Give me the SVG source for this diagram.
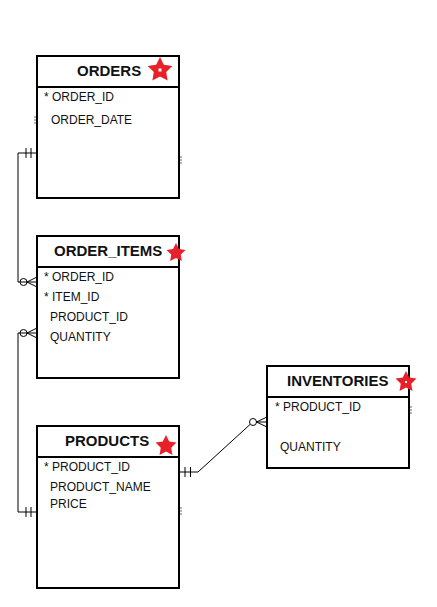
<svg xmlns="http://www.w3.org/2000/svg" xmlns:xlink="http://www.w3.org/1999/xlink" width="437" height="607" viewBox="0 0 437 607">
<style>
.box{fill:#fff;stroke:#000;stroke-width:2}
.div{stroke:#000;stroke-width:2}
.title{font-family:"Liberation Sans",Arial,sans-serif;font-size:15px;font-weight:bold;fill:#111}
.attr{font-family:"Liberation Sans",Arial,sans-serif;font-size:12px;fill:#111}
.conn{fill:none;stroke:#000;stroke-width:1}
.tick{stroke:#666;stroke-width:1}
.star{fill:#e8202a}
</style>
<defs>
<path id="star" d="M0,-1 L0.294,-0.405 L0.951,-0.309 L0.476,0.155 L0.588,0.809 L0,0.5 L-0.588,0.809 L-0.476,0.155 L-0.951,-0.309 L-0.294,-0.405 Z"/>
</defs>
<rect width="437" height="607" fill="#fff"/>
<g id="connectors">
  <!-- ORDERS to ORDER_ITEMS -->
  <path class="conn" d="M37,153 H18 V282 H37"/>
  <line class="conn" x1="26" y1="148" x2="26" y2="158"/>
  <line class="conn" x1="31" y1="148" x2="31" y2="158"/>
  <circle class="conn" cx="23.5" cy="282" r="3.5"/>
  <path class="conn" d="M37,277 L27,282 L37,287"/>
  <!-- ORDER_ITEMS to PRODUCTS -->
  <path class="conn" d="M37,333 H18 V512 H37"/>
  <circle class="conn" cx="23.5" cy="333" r="3.5"/>
  <path class="conn" d="M37,328 L27,333 L37,338"/>
  <line class="conn" x1="26" y1="507" x2="26" y2="517"/>
  <line class="conn" x1="31" y1="507" x2="31" y2="517"/>
  <!-- PRODUCTS to INVENTORIES -->
  <path class="conn" d="M179,472 H198 L250,424.5"/>
  <line class="conn" x1="185" y1="467" x2="185" y2="477"/>
  <line class="conn" x1="190.5" y1="467" x2="190.5" y2="477"/>
  <circle class="conn" cx="253" cy="422" r="3.5"/>
  <path class="conn" d="M267,417 L256.5,422 L267,427 M256.5,422 H267"/>
  <!-- small tick marks -->
  <path class="tick" d="M180,157 h2 M180,160 h2 M180,163 h2 M34,117 h2 M34,120 h2 M34,123 h2 M180,508 h2 M180,511 h2 M180,514 h2 M410,407 h2 M410,410 h2 M410,413 h2"/>
</g>
<g id="orders">
  <rect class="box" x="37" y="56" width="142" height="142"/>
  <line class="div" x1="37" y1="87" x2="179" y2="87"/>
  <text class="title" x="77" y="76">ORDERS</text>
  <use href="#star" class="star" transform="translate(160,70) scale(13)"/>
  <rect x="158.5" y="68.5" width="3" height="3" fill="#fff"/>
  <text class="attr" x="44" y="101">* ORDER_ID</text>
  <text class="attr" x="51" y="124">ORDER_DATE</text>
</g>
<g id="order_items">
  <rect class="box" x="37" y="236" width="142" height="142"/>
  <line class="div" x1="37" y1="267" x2="179" y2="267"/>
  <text class="title" x="54" y="256">ORDER_ITEMS</text>
  <use href="#star" class="star" transform="translate(176,253) scale(10)"/>
  <text class="attr" x="44" y="281">* ORDER_ID</text>
  <text class="attr" x="44" y="301">* ITEM_ID</text>
  <text class="attr" x="50" y="321">PRODUCT_ID</text>
  <text class="attr" x="50" y="341">QUANTITY</text>
</g>
<g id="products">
  <rect class="box" x="37" y="426" width="142" height="162"/>
  <line class="div" x1="37" y1="457" x2="179" y2="457"/>
  <text class="title" x="65" y="446">PRODUCTS</text>
  <use href="#star" class="star" transform="translate(166,446) scale(11)"/>
  <text class="attr" x="44" y="471">* PRODUCT_ID</text>
  <text class="attr" x="50" y="491">PRODUCT_NAME</text>
  <text class="attr" x="50" y="508">PRICE</text>
</g>
<g id="inventories">
  <rect class="box" x="267" y="366" width="142" height="102"/>
  <line class="div" x1="267" y1="397" x2="409" y2="397"/>
  <text class="title" x="287" y="386">INVENTORIES</text>
  <use href="#star" class="star" transform="translate(406,382) scale(11)"/>
  <rect x="405" y="381" width="2" height="2" fill="#fff"/>
  <text class="attr" x="275" y="411">* PRODUCT_ID</text>
  <text class="attr" x="280" y="451">QUANTITY</text>
</g>
</svg>
